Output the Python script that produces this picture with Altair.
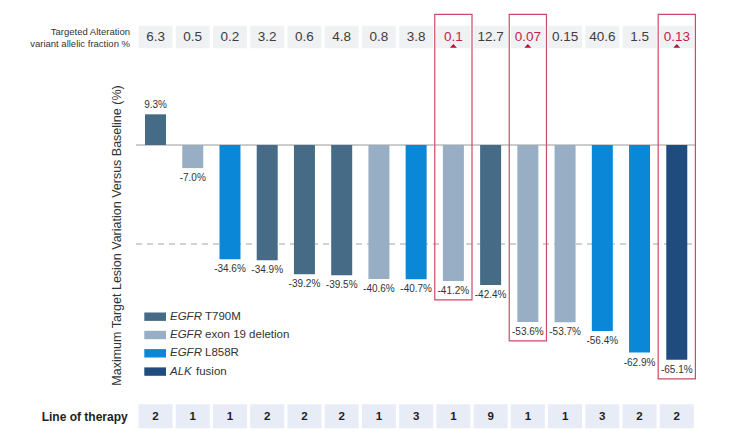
import altair as alt
import pandas as pd

# ---------------- data ----------------
idx = list(range(1, 16))
vaf = ["6.3", "0.5", "0.2", "3.2", "0.6", "4.8", "0.8", "3.8", "0.1", "12.7",
       "0.07", "0.15", "40.6", "1.5", "0.13"]
highlight = [False, False, False, False, False, False, False, False, True, False,
             True, False, False, False, True]
change = [9.3, -7.0, -34.6, -34.9, -39.2, -39.5, -40.6, -40.7, -41.2, -42.4,
          -53.6, -53.7, -56.4, -62.9, -65.1]
alteration = ["EGFR T790M", "EGFR exon 19 deletion", "EGFR L858R", "EGFR T790M",
              "EGFR T790M", "EGFR T790M", "EGFR exon 19 deletion", "EGFR L858R",
              "EGFR exon 19 deletion", "EGFR T790M", "EGFR exon 19 deletion",
              "EGFR exon 19 deletion", "EGFR L858R", "EGFR L858R", "ALK fusion"]
line_of_therapy = [2, 1, 1, 2, 2, 2, 1, 3, 1, 9, 1, 1, 3, 2, 2]

legend_genes = ["EGFR", "EGFR", "EGFR", "ALK"]
legend_variants = ["T790M", "exon 19 deletion", "L858R", "fusion"]
categories = ["EGFR T790M", "EGFR exon 19 deletion", "EGFR L858R", "ALK fusion"]
palette = ["#466b87", "#97aec4", "#0b87d8", "#1f4b7e"]

reference_lines = [0]
threshold_lines = [-30]

top_row_label = ["Targeted Alteration", "variant allelic fraction %"]
bottom_row_label = ["Line of therapy"]
y_title = ["Maximum Target Lesion Variation Versus Baseline (%)"]

df = pd.DataFrame({
    "idx": idx,
    "vaf": vaf,
    "red": highlight,
    "change": change,
    "alteration": alteration,
    "line": [str(v) for v in line_of_therapy],
    "label": [f"{v:.1f}%" for v in change],
})

FONT = "Liberation Sans"
RED_TXT = "#c41e4a"
RED_BOX = "#cc4a68"

X = alt.X("idx:O", axis=None,
          scale=alt.Scale(type="band", range=[128.9, 687.4], paddingInner=0, paddingOuter=0))
yscale = alt.Scale(domain=[-80, 20], range=[401, 71], nice=False, zero=False)
Y = alt.Y("change:Q", scale=yscale, axis=None)

base = alt.Chart(df)

top_boxes = base.mark_bar(size=34, color="#f0f1f3").encode(
    x=X, y=alt.value(17.7), y2=alt.value(40.3))
top_text = base.mark_text(fontSize=13.5, font=FONT, baseline="middle").encode(
    x=X, y=alt.value(28.5), text="vaf:N",
    color=alt.condition("datum.red", alt.value(RED_TXT), alt.value("#3d3d3d")))
triangles = base.transform_filter("datum.red").mark_point(
    shape="M-1,0.55L1,0.55L0,-0.55Z", filled=True, size=49, color="#b5123a",
    opacity=1, strokeWidth=0).encode(
    x=X, y=alt.value(37.8))
red_boxes = base.transform_filter("datum.red").mark_rect(
    fill="#ffffff", fillOpacity=0, stroke=RED_BOX, strokeWidth=1.2, yOffset=19).encode(
    x=X, y=Y, y2=alt.value(6.3))

zero_rule = alt.Chart(pd.DataFrame({"y": reference_lines})).mark_rule(
    color="#9a9a9a", strokeWidth=1).encode(
    y=alt.Y("y:Q", scale=yscale, axis=None), x=alt.value(128), x2=alt.value(687))
dash_rule = alt.Chart(pd.DataFrame({"y": threshold_lines})).mark_rule(
    color="#a5a5a5", strokeWidth=1, strokeDash=[6, 5]).encode(
    y=alt.Y("y:Q", scale=yscale, axis=None), x=alt.value(128), x2=alt.value(687))

bars = base.mark_bar(size=21).encode(
    x=X, y=Y, y2=alt.datum(0),
    color=alt.Color("alteration:N", scale=alt.Scale(domain=categories, range=palette),
                    legend=None))

pos_labels = base.transform_filter("datum.change >= 0").mark_text(
    fontSize=10, font=FONT, dy=-9, color="#333333", baseline="middle").encode(
    x=X, y=Y, text="label:N")
neg_labels = base.transform_filter("datum.change < 0").mark_text(
    fontSize=10, font=FONT, dy=10, color="#333333", baseline="middle").encode(
    x=X, y=Y, text="label:N")

bottom_boxes = base.mark_bar(size=34, color="#e7ecf7").encode(
    x=X, y=alt.value(396.3), y2=alt.value(420.3))
bottom_text = base.mark_text(fontSize=11.5, font=FONT, fontWeight="bold",
                             color="#1e1e1e", baseline="middle").encode(
    x=X, y=alt.value(408.5), text="line:N")

layers = [top_boxes, top_text, triangles, zero_rule, dash_rule, bars,
          pos_labels, neg_labels, red_boxes, bottom_boxes, bottom_text]

# row labels
for i, t in enumerate(top_row_label):
    layers.append(alt.Chart(pd.DataFrame({"t": [t]})).mark_text(
        align="right", baseline="middle", fontSize=9.5, font=FONT, color="#333333").encode(
        text="t:N", x=alt.value(122), y=alt.value(24.3 + 12 * i)))
layers.append(alt.Chart(pd.DataFrame({"t": bottom_row_label})).mark_text(
    align="right", baseline="middle", fontSize=12, font=FONT, fontWeight="bold",
    color="#1e1e1e").encode(text="t:N", x=alt.value(119.7), y=alt.value(408.5)))

# y title
layers.append(alt.Chart(pd.DataFrame({"t": y_title})).mark_text(
    angle=270, align="center", baseline="middle", fontSize=12.5, font=FONT,
    color="#333333").encode(text="t:N", x=alt.value(108.7), y=alt.value(227.5)))

# legend
for i, (g, v) in enumerate(zip(legend_genes, legend_variants)):
    yc = 308.7 + 18.3 * i
    ldf = pd.DataFrame({"g": [g], "v": [v], "cat": [categories[i]]})
    layers.append(alt.Chart(ldf).mark_rect().encode(
        x=alt.value(136.3), x2=alt.value(158), y=alt.value(yc - 4.2), y2=alt.value(yc + 4.2),
        color=alt.value(palette[i])))
    layers.append(alt.Chart(ldf).mark_text(
        align="left", baseline="middle", fontSize=11.5, font=FONT, fontStyle="italic",
        color="#333333").encode(text="g:N", x=alt.value(162), y=alt.value(yc)))
    off = 35 if g == "EGFR" else 26
    layers.append(alt.Chart(ldf).mark_text(
        align="left", baseline="middle", fontSize=11.5, font=FONT,
        color="#333333").encode(text="v:N", x=alt.value(162 + off), y=alt.value(yc)))

chart = alt.layer(*layers).properties(
    width=734, height=432, padding=0,
    autosize=alt.AutoSizeParams(type="none"),
    background="#ffffff",
).configure_view(strokeWidth=0)

chart.save("out.html", embed_options={"renderer": "svg", "actions": False})
